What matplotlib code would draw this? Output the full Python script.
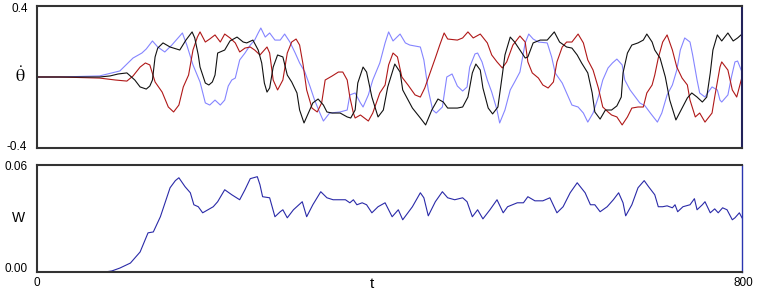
import matplotlib
matplotlib.use("Agg")
import matplotlib.pyplot as plt

# ---- data (t, value) ----
black_t = [0, 71, 83, 92, 102, 111, 117, 124, 128, 131, 134, 137, 143, 151, 162, 169, 176, 179, 183, 185,
           191, 195, 199, 202, 205, 213, 219, 227, 234, 238, 245, 251, 255, 258, 261, 264, 268, 273, 279, 284,
           289, 295, 298, 303, 308, 313, 319, 325, 329, 335, 344, 352, 356, 361, 364, 370, 374, 380, 387, 393,
           398, 406, 412, 415, 426, 435, 441, 448, 455, 461, 466, 477, 483, 489, 494, 498, 503, 506, 512, 517,
           523, 528, 531, 537, 542, 548, 554, 557, 563, 571, 579, 587, 593, 601, 607, 613, 618, 625, 630, 633,
           639, 645, 652, 658, 663, 665, 670, 675, 682, 688, 692, 698, 701, 707, 713, 718, 725, 732, 738, 743,
           749, 755, 760, 764, 767, 772, 777, 784, 790, 795, 800]
black_v = [0, 0, 0.006, 0.017, 0.023, -0.017, -0.056, -0.068, -0.051, -0.017, 0.113, 0.163, 0.192, 0.169, 0.152, 0.208, 0.254, 0.220, 0.124, 0.056,
           -0.034, -0.045, -0.028, 0.011, 0.135, 0.152, 0.203, 0.225, 0.197, 0.192, 0.208, 0.152, 0.079, -0.034, -0.085, -0.062, 0.056, 0.124, 0.113, 0.011,
           -0.028, -0.090, -0.186, -0.259, -0.203, -0.146, -0.124, -0.158, -0.197, -0.203, -0.203, -0.225, -0.231, -0.186, -0.034, 0.056, 0.028, -0.113, -0.225, -0.186,
           -0.056, 0.073, 0.028, -0.073, -0.175, -0.231, -0.270, -0.186, -0.124, -0.141, -0.175, -0.175, -0.169, -0.113, 0.023, 0.073, 0.039, -0.062, -0.175, -0.208,
           -0.169, 0.011, 0.124, 0.225, 0.197, 0.152, 0.107, 0.113, 0.192, 0.208, 0.208, 0.254, 0.197, 0.169, 0.163, 0.124, 0.079, 0.023, -0.090, -0.197,
           -0.237, -0.186, -0.186, -0.163, -0.113, 0.023, 0.135, 0.180, 0.192, 0.208, 0.242, 0.197, 0.152, 0.107, 0.0, -0.130, -0.242, -0.175, -0.118, -0.090,
           -0.113, -0.141, -0.113, 0.023, 0.152, 0.237, 0.203, 0.248, 0.203, 0.220, 0.242]

blue_t = [0, 26, 71, 89, 94, 109, 119, 124, 131, 137, 145, 153, 165, 170, 177, 185, 191, 196, 202, 208,
          213, 217, 221, 225, 230, 236, 242, 247, 251, 254, 259, 264, 270, 276, 281, 287, 293, 298, 304, 310,
          315, 321, 325, 332, 344, 352, 355, 361, 367, 370, 376, 381, 389, 395, 399, 404, 412, 418, 423, 435,
          439, 444, 449, 453, 460, 465, 471, 477, 483, 488, 491, 497, 500, 505, 511, 516, 522, 525, 531, 537,
          542, 548, 554, 558, 563, 569, 579, 584, 588, 596, 601, 607, 614, 620, 625, 631, 637, 642, 648, 653,
          658, 664, 667, 673, 679, 684, 690, 696, 704, 709, 715, 721, 726, 730, 735, 741, 744, 749, 752, 758,
          761, 766, 772, 775, 777, 784, 788, 792, 795, 800]
blue_v = [0, 0, 0.006, 0.028, 0.034, 0.107, 0.135, 0.158, 0.203, 0.169, 0.141, 0.180, 0.248, 0.180, 0.068, -0.028, -0.146, -0.158, -0.130, -0.158,
          -0.130, -0.051, -0.017, -0.006, 0.096, 0.135, 0.180, 0.208, 0.248, 0.276, 0.225, 0.248, 0.208, 0.208, 0.242, 0.197, 0.135, 0.079, 0.028, -0.056,
          -0.130, -0.203, -0.248, -0.203, -0.197, -0.186, -0.101, -0.090, -0.146, -0.169, -0.101, -0.017, 0.079, 0.192, 0.254, 0.203, 0.242, 0.192, 0.180, 0.169,
          0.096, -0.073, -0.186, -0.203, -0.169, 0.0, 0.017, -0.051, -0.079, -0.056, 0.056, 0.130, 0.135, 0.085, -0.017, -0.085, -0.186, -0.259, -0.186, -0.073,
          -0.028, 0.028, 0.192, 0.242, 0.214, 0.197, 0.192, 0.113, 0.023, -0.034, -0.090, -0.158, -0.169, -0.203, -0.254, -0.203, -0.113, -0.017, 0.051, 0.079,
          0.101, 0.068, -0.017, -0.073, -0.113, -0.146, -0.163, -0.203, -0.254, -0.203, -0.101, -0.045, 0.039, 0.152, 0.220, 0.197, 0.124, -0.017, -0.090, -0.113,
          -0.090, -0.056, -0.073, -0.130, -0.141, -0.101, 0.0, 0.085, 0.090, 0.028]

red_t = [0, 26, 71, 89, 102, 109, 117, 123, 128, 134, 142, 149, 155, 161, 166, 172, 177, 182, 185, 191,
         196, 202, 208, 213, 219, 225, 230, 236, 242, 247, 253, 261, 264, 268, 273, 279, 284, 289, 294, 298,
         302, 306, 312, 318, 323, 327, 335, 342, 347, 352, 355, 359, 361, 367, 376, 381, 389, 395, 399, 404,
         409, 414, 421, 429, 435, 440, 444, 452, 457, 462, 466, 477, 483, 489, 495, 503, 511, 516, 522, 528,
         533, 540, 548, 554, 557, 562, 569, 574, 580, 586, 590, 596, 601, 607, 614, 620, 625, 631, 637, 642,
         648, 652, 658, 664, 670, 675, 682, 688, 692, 698, 701, 705, 710, 715, 721, 726, 732, 738, 741, 747,
         752, 758, 766, 769, 775, 777, 784, 789, 794, 800]
red_v = [0, 0, -0.006, -0.017, -0.023, 0.006, 0.056, 0.079, 0.068, -0.028, -0.085, -0.169, -0.197, -0.158, -0.056, 0.011, 0.152, 0.225, 0.254, 0.197,
         0.214, 0.237, 0.197, 0.242, 0.220, 0.192, 0.141, 0.163, 0.169, 0.152, 0.124, 0.169, 0.135, -0.017, -0.073, -0.017, 0.135, 0.197, 0.214, 0.180,
         0.068, -0.073, -0.175, -0.197, -0.146, -0.017, 0.006, 0.028, 0.028, -0.017, -0.113, -0.203, -0.231, -0.214, -0.248, -0.203, -0.090, -0.045, 0.068, 0.135,
         0.113, 0.0, -0.045, -0.101, -0.113, -0.062, -0.006, 0.107, 0.180, 0.248, 0.214, 0.208, 0.220, 0.254, 0.220, 0.242, 0.192, 0.124, 0.085, 0.051,
         0.085, 0.180, 0.231, 0.197, 0.085, 0.023, -0.006, -0.045, -0.062, -0.028, 0.085, 0.169, 0.197, 0.197, 0.242, 0.192, 0.096, 0.039, -0.062, -0.169,
         -0.197, -0.214, -0.225, -0.270, -0.225, -0.175, -0.169, -0.169, -0.090, -0.045, 0.011, 0.107, 0.197, 0.237, 0.152, 0.056, -0.006, -0.045, -0.130, -0.225,
         -0.203, -0.254, -0.203, -0.113, 0.056, 0.085, 0.039, -0.073, -0.113, 0.0]

w_t = [0, 77, 85, 94, 106, 117, 126, 132, 140, 151, 157, 161, 168, 174, 178, 183, 188, 194, 200, 205,
       213, 221, 230, 236, 242, 250, 253, 256, 264, 270, 276, 279, 284, 291, 301, 306, 313, 322, 329, 336,
       350, 355, 359, 363, 369, 374, 380, 387, 395, 403, 410, 415, 426, 435, 439, 444, 452, 460, 466, 474,
       483, 488, 494, 500, 506, 514, 522, 529, 534, 545, 552, 557, 565, 574, 582, 590, 597, 605, 613, 622,
       628, 633, 639, 647, 654, 660, 665, 668, 675, 682, 689, 694, 701, 705, 710, 715, 721, 724, 727, 733,
       741, 746, 749, 755, 758, 764, 769, 773, 778, 783, 789, 792, 797, 800]
w_v = [0, 0, 0.0006, 0.0022, 0.0050, 0.0112, 0.0219, 0.0224, 0.0309, 0.0471, 0.0511, 0.0527, 0.0477, 0.0443, 0.0376, 0.0365, 0.0331, 0.0348, 0.0365, 0.0393,
       0.0460, 0.0432, 0.0404, 0.0460, 0.0522, 0.0533, 0.0488, 0.0421, 0.0415, 0.0309, 0.0337, 0.0348, 0.0303, 0.0348, 0.0393, 0.0309, 0.0376, 0.0449, 0.0415, 0.0404,
       0.0404, 0.0387, 0.0404, 0.0376, 0.0387, 0.0376, 0.0331, 0.0365, 0.0387, 0.0309, 0.0348, 0.0292, 0.0365, 0.0443, 0.0415, 0.0314, 0.0393, 0.0449, 0.0415, 0.0404,
       0.0415, 0.0393, 0.0309, 0.0348, 0.0297, 0.0348, 0.0404, 0.0331, 0.0365, 0.0387, 0.0387, 0.0421, 0.0398, 0.0398, 0.0415, 0.0331, 0.0365, 0.0443, 0.0499, 0.0443,
       0.0376, 0.0376, 0.0337, 0.0365, 0.0404, 0.0443, 0.0387, 0.0314, 0.0376, 0.0471, 0.0511, 0.0477, 0.0432, 0.0365, 0.0365, 0.0370, 0.0359, 0.0376, 0.0337, 0.0365,
       0.0376, 0.0410, 0.0348, 0.0376, 0.0393, 0.0331, 0.0353, 0.0331, 0.0359, 0.0348, 0.0292, 0.0303, 0.0331, 0.0303]

top_ylim = (-0.4, 0.4)
bot_ylim = (0.0, 0.06)
t_range = (0, 800)

W, H = 761, 293
fig = plt.figure(figsize=(W / 100, H / 100), dpi=100)
fig.patch.set_facecolor("white")

def fx(px):
    return px / W

def fy(py):
    return 1 - py / H

ax1 = fig.add_axes([fx(37), fy(148), fx(742) - fx(37), fy(6) - fy(148)])
ax2 = fig.add_axes([fx(37), fy(272), fx(742) - fx(37), fy(164.7) - fy(272)])

ax1.plot(blue_t, blue_v, color="#8585ff", lw=0.8, solid_joinstyle="round")
ax1.plot(red_t, red_v, color="#b01818", lw=0.8, solid_joinstyle="round")
ax1.plot(black_t, black_v, color="#111111", lw=0.8, solid_joinstyle="round")
ax2.plot(w_t, w_v, color="#2a2aa8", lw=0.8, solid_joinstyle="round")

ax1.set_xlim(*t_range)
ax1.set_ylim(*top_ylim)
ax2.set_xlim(*t_range)
ax2.set_ylim(*bot_ylim)

for ax in (ax1, ax2):
    ax.set_xticks([])
    ax.set_yticks([])
    for s in ax.spines.values():
        s.set_color("#333333")
        s.set_linewidth(1.5)
ax1.spines["right"].set_color("#22225a")
ax2.spines["right"].set_color("#2a35b0")
ax2.spines["right"].set_linewidth(1.0)

font = "Liberation Sans"
fs = 8.5
fig.text(fx(20), fy(9), "0.4", ha="center", va="center", fontsize=fs, family=font)
fig.text(fx(17), fy(147), "-0.4", ha="center", va="center", fontsize=fs, family=font)
fig.text(fx(20), fy(76), r"$\dot{\mathrm{\theta}}$", ha="center", va="center", fontsize=13,
         math_fontfamily="stix")
fig.text(fx(16), fy(167), "0.06", ha="center", va="center", fontsize=fs, family=font)
fig.text(fx(16), fy(269.5), "0.00", ha="center", va="center", fontsize=fs, family=font)
fig.text(fx(18.5), fy(218), "W", ha="center", va="center", fontsize=10, family=font)
fig.text(fx(37), fy(282.5), "0", ha="center", va="center", fontsize=fs, family=font)
fig.text(fx(743), fy(282.5), "800", ha="center", va="center", fontsize=fs, family=font)
fig.text(fx(372), fy(284), "t", ha="center", va="center", fontsize=11, family=font)

fig.savefig("out.png", dpi=100)
